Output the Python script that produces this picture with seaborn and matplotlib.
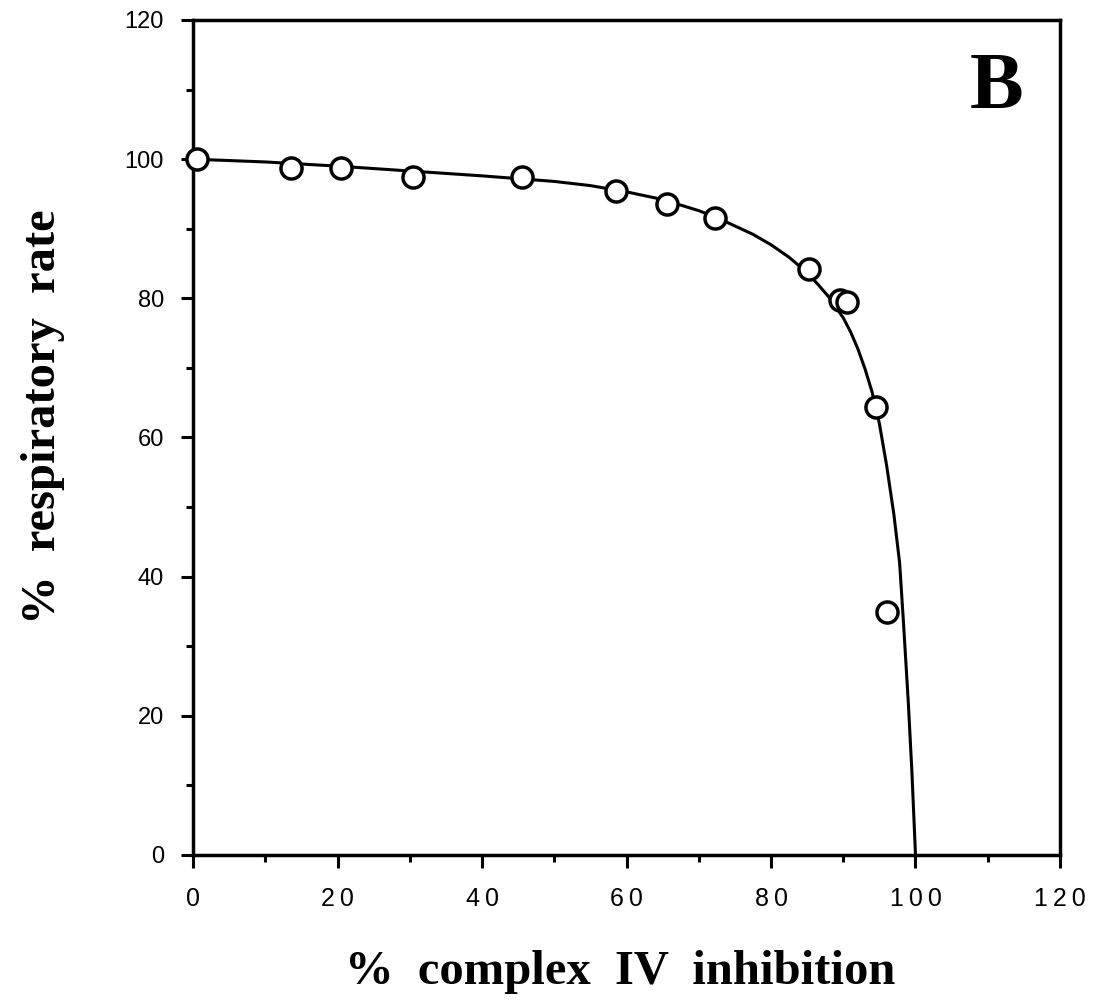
import matplotlib
matplotlib.use("Agg")
import matplotlib.pyplot as plt
import seaborn as sns
import pandas as pd
from matplotlib.ticker import MultipleLocator, FixedFormatter

# measured points
inhibition = [0.5, 13.5, 20.5, 30.4, 45.6, 58.5, 65.6, 72.3, 85.2, 89.5, 90.5, 94.5, 96.0]
resp_rate = [100.0, 98.7, 98.7, 97.5, 97.5, 95.4, 93.5, 91.5, 84.2, 79.7, 79.5, 64.4, 34.9]

# fitted curve
curve_x = [0, 10, 20, 30, 40, 50, 55, 60, 65, 70, 72.5, 75, 77.5, 80, 82.5, 85, 86.5, 88, 90, 91, 92, 93, 94, 95, 96, 97, 97.8, 98.3, 99, 99.5, 100]
curve_y = [100, 99.6, 99.0, 98.3, 97.6, 96.8, 96.2, 95.3, 94.2, 92.6, 91.6, 90.4, 89.2, 87.7, 85.9, 83.7, 82.0, 80.2, 77.2, 75.2, 72.8, 69.9, 66.5, 62.0, 56.0, 49.0, 42.0, 34.0, 22.0, 12.0, 0]

x_ticks = [0, 20, 40, 60, 80, 100, 120]
x_tick_labels = ["0", "20", "40", "60", "80", "100", "120"]
y_ticks = [0, 20, 40, 60, 80, 100, 120]

sns.set_theme(style="ticks")
plt.rcParams['font.family'] = ['Liberation Sans', 'DejaVu Sans']
plt.rcParams['text.color'] = 'black'
plt.rcParams['axes.labelcolor'] = 'black'

fig = plt.figure(figsize=(10.93, 10.05), dpi=100)
ax = fig.add_axes([0.1766, 0.1493, 0.7932, 0.8308])

pts = pd.DataFrame({"x": inhibition, "y": resp_rate})
crv = pd.DataFrame({"x": curve_x, "y": curve_y})

sns.lineplot(data=crv, x="x", y="y", ax=ax, color="black", lw=2.2, sort=False, zorder=2)
sns.scatterplot(data=pts, x="x", y="y", ax=ax, s=230, facecolor="white",
                edgecolor="black", linewidth=2.5, zorder=3, clip_on=False)

ax.set_xlim(0, 120)
ax.set_ylim(0, 120)
ax.set_xticks(x_ticks)
ax.xaxis.set_major_formatter(FixedFormatter(["\u2009".join(t) for t in x_tick_labels]))
ax.set_yticks(y_ticks)
ax.xaxis.set_minor_locator(MultipleLocator(10))
ax.yaxis.set_minor_locator(MultipleLocator(10))
ax.tick_params(axis="both", which="major", direction="out", length=9, width=2.2,
               color="black", labelcolor="black")
ax.tick_params(axis="both", which="minor", direction="out", length=5, width=2.2, color="black")
ax.tick_params(axis="x", which="major", pad=14, labelsize=18)
ax.tick_params(axis="y", which="major", pad=12, labelsize=17)
for s in ax.spines.values():
    s.set_linewidth(2.5)
    s.set_color("black")

ax.set_xlabel("%  complex  IV  inhibition", fontfamily="Liberation Serif",
              fontweight="bold", fontsize=35, color="black")
ax.set_ylabel("%  respiratory  rate", fontfamily="Liberation Serif",
              fontweight="bold", fontsize=35, color="black")
ax.xaxis.label.set_verticalalignment("center")
ax.yaxis.label.set_verticalalignment("center")
ax.xaxis.set_label_coords(0.4925, -0.140)
ax.yaxis.set_label_coords(-0.173, 0.5246)

ax.text(0.927, 0.918, "B", transform=ax.transAxes, ha="center", va="center",
        fontfamily="Liberation Serif", fontweight="bold", fontsize=58, color="black")

fig.savefig("out.png", dpi=100, facecolor="white")
